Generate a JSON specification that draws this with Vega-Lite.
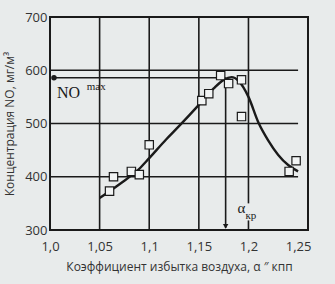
{
  "$schema": "https://vega.github.io/schema/vega-lite/v6.json",
  "width": 258,
  "height": 213,
  "autosize": "none",
  "padding": {"left": 50, "top": 17, "right": 27, "bottom": 54},
  "background": "#e8ebeb",
  "config": {
    "view": {"stroke": "#1a1a1a", "strokeWidth": 2},
    "font": "Open Sans",
    "axis": {"labelFont": "Open Sans", "titleFont": "Open Sans", "labelColor": "#333333", "titleColor": "#333333", "labelFontSize": 13, "titleFontSize": 12, "titleFontWeight": "normal", "grid": false, "domain": false, "ticks": false}
  },
  "datasets": {
    "curve": [
      {"a": 1.05, "no": 360}, {"a": 1.07, "no": 386}, {"a": 1.09, "no": 415}, {"a": 1.1, "no": 435},
      {"a": 1.117, "no": 470}, {"a": 1.13, "no": 495}, {"a": 1.15, "no": 535}, {"a": 1.165, "no": 566},
      {"a": 1.175, "no": 582}, {"a": 1.183, "no": 587}, {"a": 1.19, "no": 580}, {"a": 1.2, "no": 550},
      {"a": 1.21, "no": 502}, {"a": 1.22, "no": 468}, {"a": 1.23, "no": 441}, {"a": 1.24, "no": 422},
      {"a": 1.25, "no": 410}
    ],
    "points": [
      {"a": 1.06, "no": 373}, {"a": 1.064, "no": 400}, {"a": 1.082, "no": 410}, {"a": 1.09, "no": 404},
      {"a": 1.1, "no": 460}, {"a": 1.153, "no": 543}, {"a": 1.16, "no": 556}, {"a": 1.172, "no": 590},
      {"a": 1.18, "no": 575}, {"a": 1.193, "no": 582}, {"a": 1.193, "no": 513}, {"a": 1.241, "no": 410},
      {"a": 1.248, "no": 430}
    ],
    "segments": [
      {"x": 1.05, "x2": 1.05, "y": 300, "y2": 700},
      {"x": 1.1, "x2": 1.1, "y": 300, "y2": 700},
      {"x": 1.15, "x2": 1.15, "y": 300, "y2": 700},
      {"x": 1.2, "x2": 1.2, "y": 350, "y2": 700},
      {"x": 1.2, "x2": 1.2, "y": 300, "y2": 318},
      {"x": 1.0, "x2": 1.25, "y": 400, "y2": 400},
      {"x": 1.0, "x2": 1.25, "y": 500, "y2": 500},
      {"x": 1.0, "x2": 1.25, "y": 600, "y2": 600},
      {"x": 1.003, "x2": 1.177, "y": 586, "y2": 586},
      {"x": 1.177, "x2": 1.177, "y": 586, "y2": 304}
    ],
    "labels": [
      {"x": 1.007, "y": 558, "t": "NO", "s": 16},
      {"x": 1.037, "y": 568, "t": "max", "s": 11},
      {"x": 1.189, "y": 341, "t": "α", "s": 15},
      {"x": 1.197, "y": 326, "t": "кр", "s": 11}
    ],
    "heads": [
      {"x": 1.177, "y": 307, "shape": "triangle-down"},
      {"x": 1.004, "y": 586, "shape": "circle"}
    ]
  },
  "layer": [
    {
      "data": {"name": "segments"},
      "mark": {"type": "rule", "color": "#1a1a1a", "strokeWidth": 1.6},
      "encoding": {
        "x": {"field": "x", "type": "quantitative", "scale": {"domain": [1.0, 1.25]},
          "axis": {"values": [1.0, 1.05, 1.1, 1.15, 1.2, 1.25], "labelExpr": "datum.value == 1 ? '1,0' : replace(format(datum.value, '.2~f'), '.', ',')", "labelPadding": 10, "labelFlush": false, "title": "Коэффициент избытка воздуха, α ″ кпп", "titlePadding": 8}},
        "x2": {"field": "x2"},
        "y": {"field": "y", "type": "quantitative", "scale": {"domain": [300, 700]},
          "axis": {"values": [300, 400, 500, 600, 700], "labelPadding": 3, "labelFlush": false, "title": "Концентрация NO, мг/м³", "titlePadding": 8}},
        "y2": {"field": "y2"}
      }
    },
    {
      "data": {"name": "curve"},
      "mark": {"type": "line", "color": "#1a1a1a", "strokeWidth": 2.4, "interpolate": "monotone"},
      "encoding": {
        "x": {"field": "a", "type": "quantitative"},
        "y": {"field": "no", "type": "quantitative"}
      }
    },
    {
      "data": {"name": "points"},
      "mark": {"type": "point", "shape": "square", "filled": true, "fill": "#f2f4f4", "stroke": "#1a1a1a", "strokeWidth": 1.2, "size": 70, "opacity": 1},
      "encoding": {
        "x": {"field": "a", "type": "quantitative"},
        "y": {"field": "no", "type": "quantitative"}
      }
    },
    {
      "data": {"name": "heads"},
      "mark": {"type": "point", "filled": true, "color": "#1a1a1a", "size": 30, "opacity": 1},
      "encoding": {
        "x": {"field": "x", "type": "quantitative"},
        "y": {"field": "y", "type": "quantitative"},
        "shape": {"field": "shape", "type": "nominal", "scale": null}
      }
    },
    {
      "data": {"name": "labels"},
      "mark": {"type": "text", "align": "left", "baseline": "middle", "font": "Liberation Serif", "color": "#1a1a1a"},
      "encoding": {
        "x": {"field": "x", "type": "quantitative"},
        "y": {"field": "y", "type": "quantitative"},
        "text": {"field": "t"},
        "size": {"field": "s", "type": "quantitative", "scale": null}
      }
    }
  ]
}
